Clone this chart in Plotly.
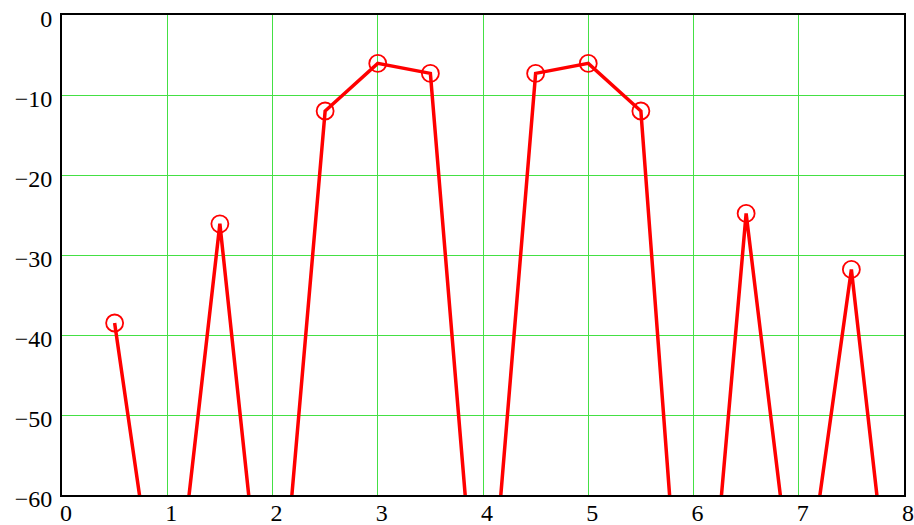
import plotly.graph_objects as go

# data
x_vals = [0.5, 1.0, 1.5, 2.0, 2.5, 3.0, 3.5, 4.0, 4.5, 5.0, 5.5, 6.0, 6.5, 7.0, 7.5, 8.0]
y_vals = [-38.5, -84, -26.1, -88, -12.0, -6.05, -7.3, -87, -7.3, -6.05, -12.0, -100, -24.8, -79, -31.8, -90]

x_ticks = [0, 1, 2, 3, 4, 5, 6, 7, 8]
y_ticks = [0, -10, -20, -30, -40, -50, -60]

grid_col = "#44e044"
font = dict(family='"Liberation Serif", "Times New Roman", Times, serif', size=24, color="black")

fig = go.Figure()
fig.add_trace(go.Scatter(
    x=x_vals, y=y_vals, mode="lines+markers",
    line=dict(color="#ff0000", width=3.5),
    marker=dict(symbol="circle-open", size=17, color="#ff0000", line=dict(width=1.8)),
    showlegend=False,
))

fig.update_layout(
    width=914, height=525,
    margin=dict(l=62, r=10, t=15, b=30),
    paper_bgcolor="white", plot_bgcolor="white",
    font=font,
    xaxis=dict(range=[0, 8], tickvals=x_ticks, ticktext=[str(v) for v in x_ticks],
               showgrid=True, gridcolor=grid_col, gridwidth=1.2, zeroline=False,
               showline=True, linecolor="black", linewidth=2, mirror=True,
               ticks="", ticklen=0, ticklabelshift=4, ticklabelstandoff=-5, tickfont=font,
               automargin=False, ticklabeloverflow="allow"),
    yaxis=dict(range=[-60, 0], tickvals=y_ticks,
               showgrid=True, gridcolor=grid_col, gridwidth=1.2, zeroline=False,
               showline=True, linecolor="black", linewidth=2, mirror=True,
               ticks="", ticklen=0, ticklabelshift=4, ticklabelstandoff=3, tickfont=font,
               automargin=False, ticklabeloverflow="allow"),
)

fig.write_html(
    "out.html",
    config={"displayModeBar": False},
    post_script="document.body.style.margin='0';document.body.style.overflow='hidden';",
)
